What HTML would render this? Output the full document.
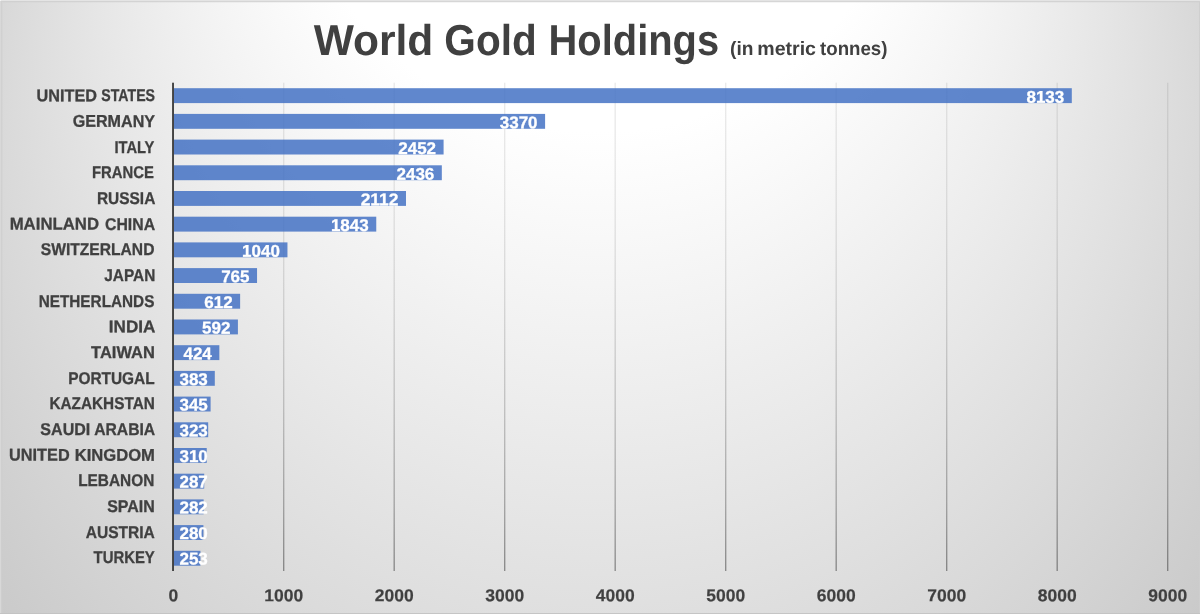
<!DOCTYPE html>
<html lang="en">
<head>
<meta charset="utf-8">
<title>World Gold Holdings (in metric tonnes)</title>
<style>
html,body{margin:0;padding:0;background:#fff;}
body{width:1200px;height:614px;overflow:hidden;}
svg{display:block;font-family:"Liberation Sans",Arial,Helvetica,sans-serif;font-weight:700;}
text{white-space:pre;text-rendering:geometricPrecision;fill:#404040;}
.d text{fill:#ffffff;stroke:#ffffff;stroke-width:0.3px;}
.a text{stroke:#404040;stroke-width:0.18px;}
.c text{stroke:#404040;stroke-width:0.3px;}
</style>
</head>
<body>
<svg width="1200" height="614" viewBox="0 0 1200 614" role="img" aria-label="World Gold Holdings (in metric tonnes) - horizontal bar chart">
<defs>
<radialGradient id="bg" gradientUnits="userSpaceOnUse" cx="600" cy="307" r="798" fx="600" fy="-490.5">
<stop offset="0" stop-color="#ffffff"/>
<stop offset="0.39" stop-color="#ffffff"/>
<stop offset="1" stop-color="#bfbfbf"/>
</radialGradient>
<linearGradient id="grid" gradientUnits="userSpaceOnUse" x1="0" y1="83" x2="0" y2="571">
<stop offset="0" stop-color="#171717" stop-opacity="0.09"/>
<stop offset="0.246" stop-color="#171717" stop-opacity="0.10"/>
<stop offset="0.451" stop-color="#171717" stop-opacity="0.135"/>
<stop offset="0.656" stop-color="#171717" stop-opacity="0.20"/>
<stop offset="0.861" stop-color="#171717" stop-opacity="0.31"/>
<stop offset="1" stop-color="#171717" stop-opacity="0.43"/>
</linearGradient>
</defs>
<rect x="0" y="0" width="1200" height="614" fill="#ffffff"/>
<rect x="0" y="0" width="1200" height="614" fill="url(#bg)"/>
<g class="frame" fill="#cecece">
<rect x="0" y="0" width="1200" height="1" fill="#e4e4e4"/>
<rect x="0" y="1" width="1200" height="1" fill-opacity="0.84"/>
<rect x="0" y="2" width="1200" height="1" fill-opacity="0.2"/>
<rect x="0" y="1" width="1" height="613" fill="#d8d8d8"/>
<rect x="1" y="2" width="1" height="612" fill-opacity="0.8"/>
<rect x="2" y="3" width="1" height="611" fill-opacity="0.3"/>
<rect x="1199" y="2" width="1" height="612" fill-opacity="0.9"/>
<rect x="0" y="613" width="1200" height="1" fill="#c2c2c2" fill-opacity="0.9"/>
<rect x="0" y="0" width="1" height="1" fill="#f4f4f4"/>
</g>

<g class="grid" fill="url(#grid)">
<rect x="283.00" y="82.7" width="1.38" height="488.3"/>
<rect x="393.50" y="82.7" width="1.38" height="488.3"/>
<rect x="504.00" y="82.7" width="1.38" height="488.3"/>
<rect x="614.50" y="82.7" width="1.38" height="488.3"/>
<rect x="725.00" y="82.7" width="1.38" height="488.3"/>
<rect x="835.50" y="82.7" width="1.38" height="488.3"/>
<rect x="946.00" y="82.7" width="1.38" height="488.3"/>
<rect x="1056.50" y="82.7" width="1.38" height="488.3"/>
<rect x="1167.00" y="82.7" width="1.38" height="488.3"/>
</g>
<g class="bars" fill="#4472c4" fill-opacity="0.85">
<rect x="173.90" y="88.20" width="897.90" height="14.9"/>
<rect x="173.90" y="113.90" width="371.20" height="14.9"/>
<rect x="173.90" y="139.60" width="269.69" height="14.9"/>
<rect x="173.90" y="165.30" width="267.92" height="14.9"/>
<rect x="173.90" y="191.00" width="232.09" height="14.9"/>
<rect x="173.90" y="216.70" width="202.35" height="14.9"/>
<rect x="173.90" y="242.40" width="113.55" height="14.9"/>
<rect x="173.90" y="268.10" width="83.14" height="14.9"/>
<rect x="173.90" y="293.80" width="66.22" height="14.9"/>
<rect x="173.90" y="319.50" width="64.01" height="14.9"/>
<rect x="173.90" y="345.20" width="45.44" height="14.9"/>
<rect x="173.90" y="370.90" width="40.90" height="14.9"/>
<rect x="173.90" y="396.60" width="36.70" height="14.9"/>
<rect x="173.90" y="422.30" width="34.27" height="14.9"/>
<rect x="173.90" y="448.00" width="32.83" height="14.9"/>
<rect x="173.90" y="473.70" width="30.29" height="14.9"/>
<rect x="173.90" y="499.40" width="29.73" height="14.9"/>
<rect x="173.90" y="525.10" width="29.51" height="14.9"/>
<rect x="173.90" y="550.80" width="26.53" height="14.9"/>
</g>
<rect class="axis" x="172.1" y="82.7" width="1.85" height="488.3" fill="#3c3c3c"/>
<g class="c">
<text id="c0" y="101.20" font-size="17.0" transform="rotate(0.03 96.0 101.2)"><tspan id="c0w0" x="36.50" textLength="60.47" lengthAdjust="spacingAndGlyphs">UNITED</tspan> <tspan id="c0w1" x="101.35" textLength="53.65" lengthAdjust="spacingAndGlyphs">STATES</tspan></text>
<text id="c1" y="126.88" font-size="17.0" transform="rotate(0.03 113.9 126.9)"><tspan id="c1w0" x="72.69" textLength="82.34" lengthAdjust="spacingAndGlyphs">GERMANY</tspan></text>
<text id="c2" y="152.55" font-size="17.0" transform="rotate(0.03 134.6 152.6)"><tspan id="c2w0" x="114.45" textLength="39.96" lengthAdjust="spacingAndGlyphs">ITALY</tspan></text>
<text id="c3" y="178.23" font-size="17.0" transform="rotate(0.03 123.2 178.2)"><tspan id="c3w0" x="92.03" textLength="61.81" lengthAdjust="spacingAndGlyphs">FRANCE</tspan></text>
<text id="c4" y="203.90" font-size="17.0" transform="rotate(0.03 126.3 203.9)"><tspan id="c4w0" x="96.91" textLength="58.39" lengthAdjust="spacingAndGlyphs">RUSSIA</tspan></text>
<text id="c5" y="229.57" font-size="17.0" transform="rotate(0.03 82.7 229.6)"><tspan id="c5w0" x="9.66" textLength="89.37" lengthAdjust="spacingAndGlyphs">MAINLAND</tspan> <tspan id="c5w1" x="105.05" textLength="49.99" lengthAdjust="spacingAndGlyphs">CHINA</tspan></text>
<text id="c6" y="255.25" font-size="17.0" transform="rotate(0.03 97.5 255.2)"><tspan id="c6w0" x="40.72" textLength="113.71" lengthAdjust="spacingAndGlyphs">SWITZERLAND</tspan></text>
<text id="c7" y="280.93" font-size="17.0" transform="rotate(0.03 129.4 280.9)"><tspan id="c7w0" x="104.26" textLength="50.99" lengthAdjust="spacingAndGlyphs">JAPAN</tspan></text>
<text id="c8" y="306.60" font-size="17.0" transform="rotate(0.03 96.7 306.6)"><tspan id="c8w0" x="38.68" textLength="115.70" lengthAdjust="spacingAndGlyphs">NETHERLANDS</tspan></text>
<text id="c9" y="332.28" font-size="17.0" transform="rotate(0.03 132.2 332.3)"><tspan id="c9w0" x="108.89" textLength="46.44" lengthAdjust="spacingAndGlyphs">INDIA</tspan></text>
<text id="c10" y="357.95" font-size="17.0" transform="rotate(0.03 122.5 357.9)"><tspan id="c10w0" x="91.11" textLength="63.77" lengthAdjust="spacingAndGlyphs">TAIWAN</tspan></text>
<text id="c11" y="383.62" font-size="17.0" transform="rotate(0.03 111.7 383.6)"><tspan id="c11w0" x="68.16" textLength="86.50" lengthAdjust="spacingAndGlyphs">PORTUGAL</tspan></text>
<text id="c12" y="409.30" font-size="17.0" transform="rotate(0.03 102.1 409.3)"><tspan id="c12w0" x="49.47" textLength="105.33" lengthAdjust="spacingAndGlyphs">KAZAKHSTAN</tspan></text>
<text id="c13" y="434.98" font-size="17.0" transform="rotate(0.03 97.8 435.0)"><tspan id="c13w0" x="40.35" textLength="49.93" lengthAdjust="spacingAndGlyphs">SAUDI</tspan> <tspan id="c13w1" x="94.18" textLength="60.98" lengthAdjust="spacingAndGlyphs">ARABIA</tspan></text>
<text id="c14" y="460.65" font-size="17.0" transform="rotate(0.03 81.9 460.6)"><tspan id="c14w0" x="9.11" textLength="60.55" lengthAdjust="spacingAndGlyphs">UNITED</tspan> <tspan id="c14w1" x="74.69" textLength="80.26" lengthAdjust="spacingAndGlyphs">KINGDOM</tspan></text>
<text id="c15" y="486.32" font-size="17.0" transform="rotate(0.03 116.2 486.3)"><tspan id="c15w0" x="78.18" textLength="76.08" lengthAdjust="spacingAndGlyphs">LEBANON</tspan></text>
<text id="c16" y="512.00" font-size="17.0" transform="rotate(0.03 130.8 512.0)"><tspan id="c16w0" x="107.14" textLength="47.60" lengthAdjust="spacingAndGlyphs">SPAIN</tspan></text>
<text id="c17" y="537.68" font-size="17.0" transform="rotate(0.03 120.2 537.7)"><tspan id="c17w0" x="85.68" textLength="69.15" lengthAdjust="spacingAndGlyphs">AUSTRIA</tspan></text>
<text id="c18" y="563.35" font-size="17.0" transform="rotate(0.03 123.9 563.4)"><tspan id="c18w0" x="93.57" textLength="61.24" lengthAdjust="spacingAndGlyphs">TURKEY</tspan></text>
</g>
<g class="d">
<text id="d0" y="102.70" font-size="17.0" transform="rotate(0.03 1045.4 102.7)"><tspan id="d0w0" x="1026.46" textLength="37.84" lengthAdjust="spacingAndGlyphs">8133</tspan></text>
<text id="d1" y="128.36" font-size="17.0" transform="rotate(0.03 518.7 128.4)"><tspan id="d1w0" x="499.76" textLength="37.84" lengthAdjust="spacingAndGlyphs">3370</tspan></text>
<text id="d2" y="154.02" font-size="17.0" transform="rotate(0.03 417.2 154.0)"><tspan id="d2w0" x="398.25" textLength="37.84" lengthAdjust="spacingAndGlyphs">2452</tspan></text>
<text id="d3" y="179.68" font-size="17.0" transform="rotate(0.03 415.4 179.7)"><tspan id="d3w0" x="396.48" textLength="37.84" lengthAdjust="spacingAndGlyphs">2436</tspan></text>
<text id="d4" y="205.34" font-size="17.0" transform="rotate(0.03 379.6 205.3)"><tspan id="d4w0" x="360.65" textLength="37.84" lengthAdjust="spacingAndGlyphs">2112</tspan></text>
<text id="d5" y="231.00" font-size="17.0" transform="rotate(0.03 349.8 231.0)"><tspan id="d5w0" x="330.91" textLength="37.84" lengthAdjust="spacingAndGlyphs">1843</tspan></text>
<text id="d6" y="256.66" font-size="17.0" transform="rotate(0.03 261.0 256.7)"><tspan id="d6w0" x="242.11" textLength="37.84" lengthAdjust="spacingAndGlyphs">1040</tspan></text>
<text id="d7" y="282.32" font-size="17.0" transform="rotate(0.03 235.4 282.3)"><tspan id="d7w0" x="221.16" textLength="28.38" lengthAdjust="spacingAndGlyphs">765</tspan></text>
<text id="d8" y="307.98" font-size="17.0" transform="rotate(0.03 218.4 308.0)"><tspan id="d8w0" x="204.24" textLength="28.38" lengthAdjust="spacingAndGlyphs">612</tspan></text>
<text id="d9" y="333.64" font-size="17.0" transform="rotate(0.03 216.2 333.6)"><tspan id="d9w0" x="202.03" textLength="28.38" lengthAdjust="spacingAndGlyphs">592</tspan></text>
<text id="d10" y="359.30" font-size="17.0" transform="rotate(0.03 197.6 359.3)"><tspan id="d10w0" x="183.46" textLength="28.38" lengthAdjust="spacingAndGlyphs">424</tspan></text>
<text id="d11" y="384.96" font-size="17.0" transform="rotate(0.03 193.6 385.0)"><tspan id="d11w0" x="179.45" textLength="28.38" lengthAdjust="spacingAndGlyphs">383</tspan></text>
<text id="d12" y="410.62" font-size="17.0" transform="rotate(0.03 193.6 410.6)"><tspan id="d12w0" x="179.45" textLength="28.38" lengthAdjust="spacingAndGlyphs">345</tspan></text>
<text id="d13" y="436.28" font-size="17.0" transform="rotate(0.03 193.6 436.3)"><tspan id="d13w0" x="179.45" textLength="28.38" lengthAdjust="spacingAndGlyphs">323</tspan></text>
<text id="d14" y="461.94" font-size="17.0" transform="rotate(0.03 193.6 461.9)"><tspan id="d14w0" x="179.45" textLength="28.38" lengthAdjust="spacingAndGlyphs">310</tspan></text>
<text id="d15" y="487.60" font-size="17.0" transform="rotate(0.03 193.6 487.6)"><tspan id="d15w0" x="179.45" textLength="28.38" lengthAdjust="spacingAndGlyphs">287</tspan></text>
<text id="d16" y="513.26" font-size="17.0" transform="rotate(0.03 193.6 513.3)"><tspan id="d16w0" x="179.45" textLength="28.38" lengthAdjust="spacingAndGlyphs">282</tspan></text>
<text id="d17" y="538.92" font-size="17.0" transform="rotate(0.03 193.6 538.9)"><tspan id="d17w0" x="179.45" textLength="28.38" lengthAdjust="spacingAndGlyphs">280</tspan></text>
<text id="d18" y="564.58" font-size="17.0" transform="rotate(0.03 193.6 564.6)"><tspan id="d18w0" x="179.45" textLength="28.38" lengthAdjust="spacingAndGlyphs">253</tspan></text>
</g>
<g class="a">
<text id="a0" y="601.30" font-size="17.2" transform="rotate(0.03 173.3 601.3)"><tspan id="a0w0" x="168.44" textLength="9.72" lengthAdjust="spacingAndGlyphs">0</tspan></text>
<text id="a1" y="601.30" font-size="17.2" transform="rotate(0.03 283.8 601.3)"><tspan id="a1w0" x="264.36" textLength="38.88" lengthAdjust="spacingAndGlyphs">1000</tspan></text>
<text id="a2" y="601.30" font-size="17.2" transform="rotate(0.03 394.3 601.3)"><tspan id="a2w0" x="374.86" textLength="38.88" lengthAdjust="spacingAndGlyphs">2000</tspan></text>
<text id="a3" y="601.30" font-size="17.2" transform="rotate(0.03 504.8 601.3)"><tspan id="a3w0" x="485.36" textLength="38.88" lengthAdjust="spacingAndGlyphs">3000</tspan></text>
<text id="a4" y="601.30" font-size="17.2" transform="rotate(0.03 615.3 601.3)"><tspan id="a4w0" x="595.86" textLength="38.88" lengthAdjust="spacingAndGlyphs">4000</tspan></text>
<text id="a5" y="601.30" font-size="17.2" transform="rotate(0.03 725.8 601.3)"><tspan id="a5w0" x="706.36" textLength="38.88" lengthAdjust="spacingAndGlyphs">5000</tspan></text>
<text id="a6" y="601.30" font-size="17.2" transform="rotate(0.03 836.3 601.3)"><tspan id="a6w0" x="816.86" textLength="38.88" lengthAdjust="spacingAndGlyphs">6000</tspan></text>
<text id="a7" y="601.30" font-size="17.2" transform="rotate(0.03 946.8 601.3)"><tspan id="a7w0" x="927.36" textLength="38.88" lengthAdjust="spacingAndGlyphs">7000</tspan></text>
<text id="a8" y="601.30" font-size="17.2" transform="rotate(0.03 1057.3 601.3)"><tspan id="a8w0" x="1037.86" textLength="38.88" lengthAdjust="spacingAndGlyphs">8000</tspan></text>
<text id="a9" y="601.30" font-size="17.2" transform="rotate(0.03 1167.8 601.3)"><tspan id="a9w0" x="1148.36" textLength="38.88" lengthAdjust="spacingAndGlyphs">9000</tspan></text>
</g>
<g class="t">
<text id="t1" y="55.00" font-size="43.2" transform="rotate(0.03 515.6 55.0)"><tspan id="t1w0" x="313.63" textLength="119.62" lengthAdjust="spacingAndGlyphs">World</tspan> <tspan id="t1w1" x="444.36" textLength="92.31" lengthAdjust="spacingAndGlyphs">Gold</tspan> <tspan id="t1w2" x="548.59" textLength="170.53" lengthAdjust="spacingAndGlyphs">Holdings</tspan></text>
<text id="t2" y="55.00" font-size="19.3" transform="rotate(0.03 808.7 55.0)"><tspan id="t2w0" x="730.05" textLength="23.41" lengthAdjust="spacingAndGlyphs">(in</tspan> <tspan id="t2w1" x="757.32" textLength="58.68" lengthAdjust="spacingAndGlyphs">metric</tspan> <tspan id="t2w2" x="820.01" textLength="67.43" lengthAdjust="spacingAndGlyphs">tonnes)</tspan></text>
</g>
</svg>
</body>
</html>
